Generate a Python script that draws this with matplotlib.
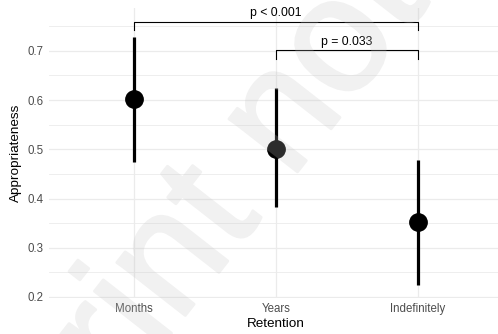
import matplotlib.pyplot as plt
import matplotlib.patheffects as pe
from matplotlib.ticker import FixedLocator

plt.rcParams["font.family"] = ["Liberation Sans", "DejaVu Sans"]

# group estimates with 95% intervals
retention = ["Months", "Years", "Indefinitely"]
estimate = [0.603, 0.501, 0.352]
ci_low = [0.474, 0.383, 0.224]
ci_high = [0.728, 0.625, 0.478]

# pairwise comparisons drawn as brackets
comparisons = [(0, 2), (1, 2)]
bracket_y = [0.759, 0.701]
bracket_drop = 0.017
p_labels = ["p < 0.001", "p = 0.033"]


def fade(img, dpi):
    # flatten the watermark into one translucent layer
    img = img.copy()
    img[..., 3] *= 0.23
    return img, 0, 0


fig = plt.figure(figsize=(4.98, 3.34), dpi=100)
ax = fig.add_axes([0.098, 0.108, 0.9124, 0.868])

x = list(range(len(retention)))
ax.vlines(x, ci_low, ci_high, color="black", lw=2.3, zorder=3)
ax.plot(x, estimate, "o", color="black", ms=12.5, zorder=4)

for (a, b), y, lab in zip(comparisons, bracket_y, p_labels):
    ax.plot([a, a, b, b], [y - bracket_drop, y, y, y - bracket_drop],
            color="black", lw=0.8, zorder=3)
    ax.text((a + b) / 2, y + 0.005, lab, ha="center", va="bottom",
            fontsize=8.8, color="black")

ax.set_xlim(-0.6, 2.6)
ax.set_ylim(0.198, 0.787)
ax.set_xticks(x)
ax.set_xticklabels(retention)
ax.set_yticks([0.2, 0.3, 0.4, 0.5, 0.6, 0.7])
ax.yaxis.set_minor_locator(FixedLocator([0.25, 0.35, 0.45, 0.55, 0.65, 0.75]))
ax.tick_params(which="both", length=0, labelsize=8.3, labelcolor="#4d4d4d", pad=4)
ax.grid(which="major", color="#ebebeb", lw=0.9)
ax.grid(which="minor", axis="y", color="#ebebeb", lw=0.6)
ax.set_axisbelow(True)
for s in ax.spines.values():
    s.set_visible(False)

ax.set_xlabel("Retention", fontsize=9.7, labelpad=2)
ax.set_ylabel("Appropriateness", fontsize=9.7, labelpad=4)

# diagonal watermark across the figure
wm = fig.text(-0.160, -0.960, "preprint not peer reviewed", fontsize=118,
              rotation=52, rotation_mode="anchor", ha="left", va="baseline",
              color="#c2c2c2", zorder=10)
wm.set_path_effects([pe.withStroke(linewidth=2, foreground="#c2c2c2")])
wm.set_agg_filter(fade)

fig.savefig("out.png", dpi=100, facecolor="white")
